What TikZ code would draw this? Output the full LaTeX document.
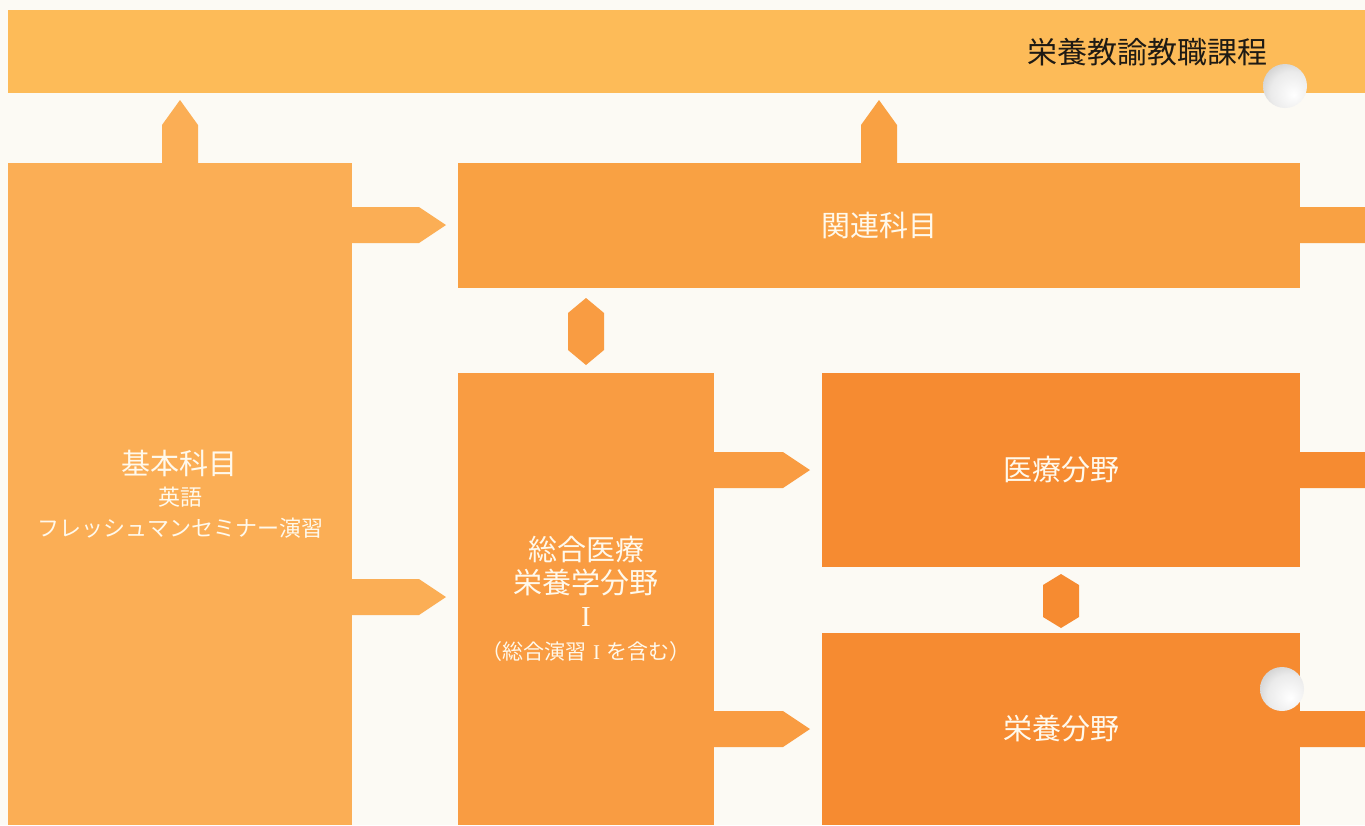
\documentclass[tikz,border=0pt]{standalone}
\usepackage{fontspec}
\newfontfamily\jp{Noto Sans CJK JP}
\newfontfamily\romnum{Liberation Serif}
\usetikzlibrary{calc}
\definecolor{bg}{HTML}{FCFAF4}
\definecolor{bandc}{HTML}{FDBB58}
\definecolor{kihonc}{HTML}{FBAE55}
\definecolor{kanrenc}{HTML}{F9A143}
\definecolor{sogoc}{HTML}{F99C42}
\definecolor{iryoc}{HTML}{F68B31}
\definecolor{txtw}{HTML}{FFF9EC}
\definecolor{titletext}{HTML}{1E1A14}
\pgfdeclareradialshading{holeshade}{\pgfpoint{10bp}{-10bp}}{color(0bp)=(white); color(24bp)=(white!92!black); color(40bp)=(black!22); color(55bp)=(black!48); color(90bp)=(black!52)}
% right block arrow: from point, to point, y level, colour
\newcommand\rarr[4]{\fill[#4] ($(#1|-0,#3)+(0,-18)$) -- ($(#2|-0,#3)+(-39,-18)$) -- ($(#2|-0,#3)+(-12,0)$) -- ($(#2|-0,#3)+(-39,18)$) -- ($(#1|-0,#3)+(0,18)$) -- cycle;}
% up block arrow into the band: node, x, colour
\newcommand\uarr[3]{\fill[#3] ($(#1.north -| #2,0)+(-18,0)$) -- ($(band.south -| #2,0)+(-18,32)$) -- ($(band.south -| #2,0)+(0,7)$) -- ($(band.south -| #2,0)+(18,32)$) -- ($(#1.north -| #2,0)+(18,0)$) -- cycle;}
% double (hexagon) arrow: top node, bottom node, top gap, bottom gap, depth, colour
\newcommand\darr[6]{\fill[#6] ($(#1.south -| #2.north)+(0,#3)$) -- ($(#1.south -| #2.north)+(18,#3+#5)$) -- ($(#2.north)+(18,-#4-#5)$) -- ($(#2.north)+(0,-#4)$) -- ($(#2.north)+(-18,-#4-#5)$) -- ($(#1.south -| #2.north)+(-18,#3+#5)$) -- cycle;}
\begin{document}
\begin{tikzpicture}[x=1pt,y=-1pt,
  blk/.style={rectangle, inner sep=0pt, outer sep=0pt, anchor=north west, text=txtw, align=center},
  holestyle/.style={shading=holeshade}]
\useasboundingbox (0,0) rectangle (1365,825);
\clip (0,0) rectangle (1365,825);
\fill[bg] (0,0) rectangle (1365,825);
\coordinate (edgeR) at (1420,0);
% band
\node[blk, fill=bandc, minimum width=1400pt, minimum height=83pt] (band) at (8,10) {};
\node[anchor=east, inner sep=0pt, text=titletext, font=\jp\fontsize{30}{30}\selectfont] (title) at (1268,52) {栄養教諭教職課程};
% boxes
\node[blk, fill=kihonc, minimum width=344pt, minimum height=662pt, font=\jp\fontsize{22}{31}\selectfont] (kihon) at (8,163)
  {{\fontsize{29}{31}\selectfont 基本科目}\\英語\\フレッシュマンセミナー演習};
\node[blk, fill=kanrenc, minimum width=842pt, minimum height=125pt, font=\jp\fontsize{29}{31}\selectfont] (kanren) at (458,163) {関連科目};
\node[blk, fill=sogoc, minimum width=256pt, minimum height=452pt, font=\jp\fontsize{29}{33}\selectfont] (sogo) at (458,373)
  {総合医療\\栄養学分野\\{\romnum I}\\{\fontsize{21}{33}\selectfont （総合演習\hspace{0.3em}{\romnum I}\hspace{0.3em}を含む）}};
\node[blk, fill=iryoc, minimum width=478pt, minimum height=194pt, font=\jp\fontsize{29}{31}\selectfont] (iryo) at (822,373) {医療分野};
\node[blk, fill=iryoc, minimum width=478pt, minimum height=192pt, font=\jp\fontsize{29}{31}\selectfont] (eiyo) at (822,633) {栄養分野};
% arrows
\uarr{kihon}{180}{kihonc}
\uarr{kanren}{879}{kanrenc}
\rarr{kihon.east}{kanren.west}{225}{kihonc}
\rarr{kihon.east}{sogo.west}{597}{kihonc}
\rarr{sogo.east}{iryo.west}{470}{sogoc}
\rarr{sogo.east}{eiyo.west}{729}{sogoc}
\rarr{kanren.east}{edgeR}{225}{kanrenc}
\rarr{iryo.east}{edgeR}{470}{iryoc}
\rarr{eiyo.east}{edgeR}{729}{iryoc}
\darr{kanren}{sogo}{10}{8}{15}{sogoc}
\darr{iryo}{eiyo}{7}{5}{11}{iryoc}
% punch holes
\shade[holestyle] (1285,86) circle[radius=22];
\shade[holestyle] (1282,689) circle[radius=22];
\end{tikzpicture}
\end{document}
